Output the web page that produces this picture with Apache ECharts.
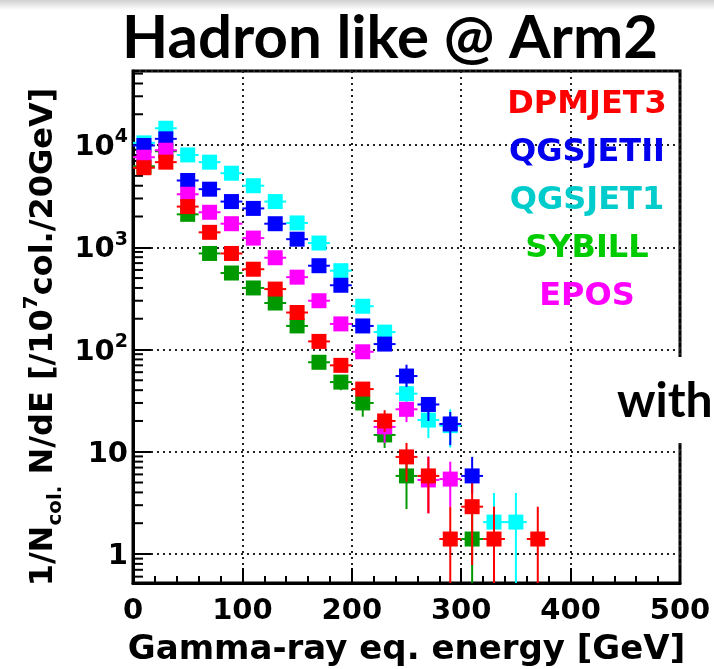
<!DOCTYPE html>
<html>
<head>
<meta charset="utf-8">
<script src="https://cdn.jsdelivr.net/npm/echarts@6/dist/echarts.min.js"></script>
<style>
  html, body { margin: 0; padding: 0; background: #ffffff; }
  #chart { width: 714px; height: 669px; }
</style>
</head>
<body>
<div id="chart"></div>
<script>
// Bin centres of the 20 GeV energy bins [GeV]
const energies = [10, 30, 50, 70, 90, 110, 130, 150, 170, 190, 210, 230, 250, 270, 290, 310, 330, 350, 370];

// 1/Ncol dN/dE per model (null = empty bin)
const dpmjet3  = [6000, 6800, 2500, 1400, 870, 610, 390, 230, 120, 70, 41, 20, 8.9, 5.8, 1.4, 2.9, 1.4, null, 1.4];
const qgsjet2  = [9900, 11500, 4500, 3700, 2800, 2400, 1700, 1200, 660, 425, 170, 113, 55, 29, 18.7, 5.8, null, null, null];
const qgsjet1  = [10500, 14600, 8000, 6800, 5300, 4000, 2800, 1730, 1100, 590, 265, 148, 37, 20.4, 18, null, 2.05, 2.05, null];
const sybill   = [6200, 8700, 2100, 870, 560, 400, 285, 170, 75, 48, 30, 14.6, 5.8, null, null, 1.4, null, null, null];
const epos     = [7600, 8900, 3300, 2200, 1700, 1230, 790, 510, 300, 178, 95, 17.5, 26, 5.3, 5.4, null, null, null, null];

// Vertical error ranges [low, high] per bin (null = hidden inside the marker)
const dpmjet3Err = [null, null, null, null, null, null, null, null, null, [62, 79], [35, 48], [15.6, 25.5], [5.1, 12.2], [2.5, 8.9], [0.01, 2.9], [0.78, 4.9], [0.01, 2.9], null, [0.01, 2.9]];
const qgsjet2Err = [null, null, null, null, null, null, null, null, null, null, null, [100, 128], [43, 71], [20, 34], [11.6, 24.5], [3.9, 8.9], null, null, null];
const qgsjet1Err = [null, null, null, null, null, null, null, null, null, null, null, null, [27, 47], [13.6, 29], [11, 26], null, [0.01, 3.95], [0.01, 3.95], null];
const sybillErr  = [null, null, null, null, null, null, null, null, null, [40, 56], [22, 38], [10.9, 19], [2.75, 8.5], null, null, [0.01, 2.9], null, null, null];
const eposErr    = [null, null, null, null, null, null, null, null, null, null, null, [12.2, 23], [19.5, 30], [2.5, 9], [2.9, 8], null, null, null, null];

const modelNames = ['DPMJET3', 'QGSJETII', 'QGSJET1', 'SYBILL', 'EPOS'];

// Axis ranges
const xMin = 0, xMax = 500, xStep = 100;
const yMin = 0.52, yMax = 53000;
const halfBin = 10;

// Log-axis minor tick positions: mantissas 2..9 in every decade shown
const minorMantissas = [2, 3, 4, 5, 6, 7, 8, 9];
const minorDecades = [0.1, 1, 10, 100, 1000, 10000];

const FONT = 'DejaVu Sans';
const chart = echarts.init(document.getElementById('chart'), null, { renderer: 'canvas' });

function rows(values, errs) {
  const out = [];
  values.forEach((v, i) => {
    if (v == null) return;
    const e = errs[i];
    out.push([energies[i], v, e ? e[0] : v, e ? e[1] : v]);
  });
  return out;
}

function markerRenderer(color) {
  return function (params, api) {
    const e = api.value(0), v = api.value(1), lo = api.value(2), hi = api.value(3);
    const c = api.coord([e, v]);
    const l = api.coord([e - halfBin, v]);
    const r = api.coord([e + halfBin, v]);
    const children = [{
      type: 'line',
      shape: { x1: l[0], y1: c[1], x2: r[0], y2: c[1] },
      style: { stroke: color, lineWidth: 2 }
    }];
    if (hi > lo) {
      const pLo = api.coord([e, Math.max(lo, yMin)]);
      const pHi = api.coord([e, Math.min(hi, yMax)]);
      children.push({
        type: 'line',
        shape: { x1: c[0], y1: pLo[1], x2: c[0], y2: pHi[1] },
        style: { stroke: color, lineWidth: 2 }
      });
    }
    children.push({
      type: 'rect',
      shape: { x: c[0] - 7.5, y: c[1] - 7.5, width: 15, height: 15 },
      style: { fill: color }
    });
    return { type: 'group', children: children };
  };
}

function modelSeries(name, values, errs, color, z) {
  return {
    name: name,
    type: 'custom',
    data: rows(values, errs),
    encode: { x: 0, y: 1 },
    renderItem: markerRenderer(color),
    z: z,
    silent: true
  };
}

const minorTickData = [];
minorDecades.forEach(d => minorMantissas.forEach(m => {
  const v = +(m * d).toPrecision(3);
  if (v > yMin && v < yMax) minorTickData.push([xMin, v]);
}));

const legendItems = [
  { text: 'DPMJET3', color: '#ff0000' },
  { text: 'QGSJETII', color: '#0000ee' },
  { text: 'QGSJET1', color: '#00cccc' },
  { text: 'SYBILL', color: '#00cc00' },
  { text: 'EPOS', color: '#ff00ff' }
];

const option = {
  backgroundColor: '#ffffff',
  animation: false,
  grid: {
    left: 133, right: 34, top: 71, bottom: 86,
    outerBoundsMode: 'none',
    containLabel: false,
    show: true, borderColor: '#000', borderWidth: 3, backgroundColor: 'transparent'
  },
  xAxis: {
    type: 'value',
    min: xMin, max: xMax, interval: xStep,
    axisLine: { show: true, lineStyle: { color: '#000', width: 3 } },
    axisTick: { show: true, inside: true, length: 15, lineStyle: { color: '#000', width: 2 } },
    minorTick: { show: true, splitNumber: 5, length: 7, lineStyle: { color: '#000', width: 2 } },
    splitLine: { show: true, lineStyle: { color: '#222', width: 2, type: [2, 4] } },
    axisLabel: { fontFamily: FONT, fontWeight: 'bold', fontSize: 29, color: '#000', margin: 14 },
    name: 'Gamma-ray eq. energy [GeV]',
    nameLocation: 'middle',
    nameGap: 50,
    nameTextStyle: { fontFamily: FONT, fontWeight: 'bold', fontSize: 34, color: '#000' }
  },
  yAxis: {
    type: 'log',
    logBase: 10,
    min: yMin, max: yMax,
    axisLine: { show: true, lineStyle: { color: '#000', width: 3 } },
    axisTick: { show: true, inside: true, length: 18, lineStyle: { color: '#000', width: 2 } },
    splitLine: { show: true, lineStyle: { color: '#222', width: 2, type: [2, 4] } },
    axisLabel: {
      showMinLabel: false,
      showMaxLabel: false,
      margin: 5,
      formatter: function (v) {
        const p = Math.round(Math.log10(v));
        if (p === 0) return '{b|1}';
        if (p === 1) return '{b|10}';
        return '{b|10}{s|' + p + '}';
      },
      rich: {
        b: { fontFamily: FONT, fontWeight: 'bold', fontSize: 29, color: '#000', lineHeight: 34, verticalAlign: 'bottom' },
        s: { fontFamily: FONT, fontWeight: 'bold', fontSize: 19, color: '#000', lineHeight: 20, verticalAlign: 'top' }
      }
    }
  },
  graphic: [
    {
      type: 'rect', left: 0, top: 0, z: 0,
      shape: { width: 714, height: 10 },
      style: {
        fill: new echarts.graphic.LinearGradient(0, 0, 0, 1, [
          { offset: 0, color: '#d0d0d0' }, { offset: 1, color: '#ffffff' }
        ])
      }
    },
    {
      type: 'text', x: 390, y: 39, z: 100,
      style: {
        text: 'Hadron like @ Arm2',
        font: 'bold 60px Lato',
        fill: '#000', textAlign: 'center', textVerticalAlign: 'middle'
      }
    },
    {
      type: 'text', x: 44, y: 337, rotation: Math.PI / 2, z: 100,
      style: {
        text: '{m|1/N}{sub|col.}{m| N/dE [/10}{sup|7}{m|col./20GeV]}',
        textAlign: 'center', textVerticalAlign: 'middle',
        rich: {
          m: { fontFamily: FONT, fontWeight: 'bold', fontSize: 32, fill: '#000', lineHeight: 44, verticalAlign: 'middle' },
          sub: { fontFamily: FONT, fontWeight: 'bold', fontSize: 20, fill: '#000', lineHeight: 20, verticalAlign: 'bottom' },
          sup: { fontFamily: FONT, fontWeight: 'bold', fontSize: 20, fill: '#000', lineHeight: 20, verticalAlign: 'top' }
        }
      }
    },
    {
      type: 'rect', left: 606, top: 357, z: 90,
      shape: { width: 108, height: 86 },
      style: { fill: '#ffffff' }
    },
    {
      type: 'text', x: 617, y: 402, z: 100,
      style: {
        text: 'with',
        font: 'bold 48px Lato',
        fill: '#000', textAlign: 'left', textVerticalAlign: 'middle'
      }
    }
  ].concat(legendItems.map((it, i) => ({
    type: 'text', x: 587, y: 105 + i * 48, z: 100,
    style: {
      text: it.text,
      font: 'bold 32px "DejaVu Sans"',
      fill: it.color, textAlign: 'center', textVerticalAlign: 'middle'
    }
  }))),
  series: [
    {
      type: 'custom',
      data: minorTickData,
      encode: { x: 0, y: 1 },
      silent: true,
      z: 3,
      renderItem: function (params, api) {
        const p = api.coord([api.value(0), api.value(1)]);
        return {
          type: 'line',
          shape: { x1: p[0], y1: p[1], x2: p[0] + 10, y2: p[1] },
          style: { stroke: '#000', lineWidth: 2 }
        };
      }
    },
    modelSeries(modelNames[2], qgsjet1, qgsjet1Err, '#00ffff', 4),
    modelSeries(modelNames[1], qgsjet2, qgsjet2Err, '#0000ff', 5),
    modelSeries(modelNames[3], sybill, sybillErr, '#009900', 6),
    modelSeries(modelNames[4], epos, eposErr, '#ff00ff', 7),
    modelSeries(modelNames[0], dpmjet3, dpmjet3Err, '#ff0000', 8)
  ]
};

chart.setOption(option);
</script>
</body>
</html>
